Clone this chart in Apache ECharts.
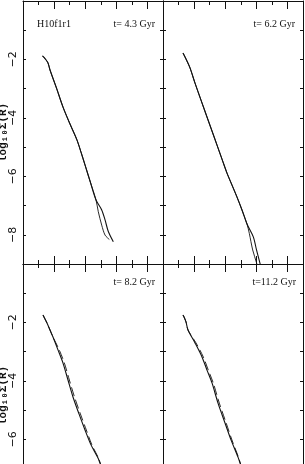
<!DOCTYPE html>
<html>
<head>
<meta charset="utf-8">
<script src="https://cdn.jsdelivr.net/npm/echarts@6/dist/echarts.min.js"></script>
<style>html,body{margin:0;padding:0;background:#fff}#c{width:305px;height:464px}</style>
</head>
<body>
<div id="c"></div>
<script>
// ---- data ----
const xMin = 0, xMax = 4.5;
const yMin = -9, yMax = 0;
const yTickLabels = [-2, -4, -6, -8];
const runLabel = 'H10f1r1';
const panelTitles = ['t= 4.3 Gyr', 't= 6.2 Gyr', 't= 8.2 Gyr', 't=11.2 Gyr'];
const yAxisTitle = 'log\u2081\u2080\u03A3(R)';

const tlA = [[0.627,-1.88],[0.707,-1.97],[0.804,-2.12],[0.868,-2.36],[1.077,-2.98],[1.286,-3.63],[1.511,-4.21],[1.736,-4.76],[1.864,-5.17],[1.993,-5.61],[2.154,-6.16],[2.347,-6.81],[2.530,-7.15],[2.637,-7.49],[2.742,-7.89],[2.903,-8.24]];
const tlB = [[0.627,-1.88],[0.707,-1.97],[0.804,-2.12],[0.868,-2.36],[1.077,-2.98],[1.286,-3.63],[1.511,-4.21],[1.736,-4.76],[1.864,-5.17],[1.993,-5.61],[2.154,-6.16],[2.347,-6.81],[2.420,-7.21],[2.530,-7.67],[2.637,-8.01],[2.774,-8.16]];

const trA = [[0.643,-1.78],[0.691,-1.88],[0.755,-2.02],[0.868,-2.29],[1.029,-2.81],[1.221,-3.39],[1.414,-3.97],[1.575,-4.45],[1.736,-4.93],[1.896,-5.41],[2.057,-5.89],[2.218,-6.30],[2.379,-6.71],[2.539,-7.15],[2.700,-7.63],[2.903,-8.07],[3.006,-8.52],[3.118,-8.98],[3.150,-9.14]];
const trB = [[0.643,-1.78],[0.691,-1.88],[0.755,-2.02],[0.868,-2.29],[1.029,-2.81],[1.221,-3.39],[1.414,-3.97],[1.575,-4.45],[1.736,-4.93],[1.896,-5.41],[2.057,-5.89],[2.218,-6.30],[2.379,-6.71],[2.539,-7.15],[2.700,-7.63],[2.774,-7.95],[2.883,-8.52],[3.012,-8.98],[3.038,-9.14]];

const blA = [[0.643,-1.745],[0.691,-1.85],[0.771,-2.02],[0.868,-2.26],[0.964,-2.50],[1.125,-2.94],[1.286,-3.39],[1.446,-3.97],[1.607,-4.55],[1.800,-5.13],[1.993,-5.68],[2.186,-6.19],[2.411,-6.64],[2.507,-6.91],[2.604,-7.19]];
const blB = [[0.643,-1.745],[0.691,-1.85],[0.771,-2.02],[0.868,-2.26],[0.964,-2.50],[1.165,-2.94],[1.330,-3.39],[1.490,-3.97],[1.655,-4.55],[1.845,-5.13],[2.035,-5.68],[2.215,-6.19],[2.425,-6.64],[2.515,-6.91],[2.610,-7.19]];

const brA = [[0.643,-1.745],[0.691,-1.85],[0.739,-1.98],[0.804,-2.26],[1.029,-2.70],[1.254,-3.18],[1.414,-3.63],[1.575,-4.07],[1.768,-4.76],[1.993,-5.44],[2.186,-6.02],[2.411,-6.61],[2.507,-6.91],[2.604,-7.19]];
const brB = [[0.643,-1.745],[0.691,-1.85],[0.739,-1.98],[0.804,-2.26],[1.060,-2.70],[1.295,-3.18],[1.455,-3.63],[1.615,-4.07],[1.810,-4.76],[2.030,-5.44],[2.215,-6.02],[2.425,-6.61],[2.515,-6.91],[2.610,-7.19]];

const panels = [
  {a: tlA, b: tlB, bDash: false},
  {a: trA, b: trB, bDash: false},
  {a: blA, b: blB, bDash: true},
  {a: brA, b: brB, bDash: true}
];

// ---- layout ----
const grids = [
  {left: 23, top: 1, width: 140, height: 263, outerBoundsMode: 'none', containLabel: false},
  {left: 163, top: 1, width: 140, height: 263, outerBoundsMode: 'none', containLabel: false},
  {left: 23, top: 264, width: 140, height: 263, outerBoundsMode: 'none', containLabel: false},
  {left: 163, top: 264, width: 140, height: 263, outerBoundsMode: 'none', containLabel: false}
];

const ink = '#111';
const lineStyle = {color: ink, width: 1};

const xAxes = [], yAxes = [], series = [];
grids.forEach((g, i) => {
  ['bottom', 'top'].forEach(pos => {
    xAxes.push({
      gridIndex: i, type: 'value', position: pos, min: xMin, max: xMax, interval: 1,
      axisLine: {show: true, onZero: false, lineStyle},
      axisTick: {show: true, inside: true, length: 8, lineStyle},
      minorTick: {show: true, splitNumber: 2, length: 4, lineStyle},
      axisLabel: {show: false}, splitLine: {show: false}
    });
  });
  const isLeft = (i % 2 === 0);
  yAxes.push({
    gridIndex: i, type: 'value', position: 'left', min: yMin, max: yMax, interval: 1,
    axisLine: {show: true, onZero: false, lineStyle},
    axisTick: {show: true, inside: true, length: 3, lineStyle},
    axisLabel: {
      show: isLeft, rotate: 90, margin: 4, color: ink, fontSize: 11,
      fontFamily: 'DejaVu Sans',
      formatter: v => yTickLabels.includes(v) ? '\u2212' + Math.abs(v) : ''
    },
    splitLine: {show: false},
    name: isLeft ? yAxisTitle : '', nameLocation: 'middle', nameRotate: 90, nameGap: 14,
    nameMoveOverlap: false,
    nameTextStyle: {color: ink, fontSize: 11, fontWeight: 'bold', fontFamily: 'Liberation Mono, DejaVu Sans Mono'}
  });
  yAxes.push({
    gridIndex: i, type: 'value', position: 'right', min: yMin, max: yMax, interval: 1,
    axisLine: {show: true, onZero: false, lineStyle},
    axisTick: {show: true, inside: true, length: 3, lineStyle},
    axisLabel: {show: false}, splitLine: {show: false}
  });
  const p = panels[i];
  series.push({
    type: 'line', xAxisIndex: 2 * i, yAxisIndex: 2 * i, data: p.a, showSymbol: false,
    smooth: 0.3, lineStyle: {color: ink, width: 1.1}, clip: true, z: 3
  });
  series.push({
    type: 'line', xAxisIndex: 2 * i, yAxisIndex: 2 * i, data: p.b, showSymbol: false,
    smooth: 0.3, lineStyle: {color: ink, width: 0.9, type: p.bDash ? [9, 4] : 'solid'}, clip: true, z: 3
  });
});

const titleFont = {fontFamily: 'Liberation Serif, DejaVu Serif', fontSize: 10, fill: ink};
const graphic = [
  {type: 'text', left: 37, top: 19, style: Object.assign({text: runLabel}, titleFont)},
  {type: 'text', right: 305 - 155, top: 19, style: Object.assign({text: panelTitles[0]}, titleFont)},
  {type: 'text', right: 305 - 295, top: 19, style: Object.assign({text: panelTitles[1]}, titleFont)},
  {type: 'text', right: 305 - 155, top: 277, style: Object.assign({text: panelTitles[2]}, titleFont)},
  {type: 'text', right: 305 - 296, top: 277, style: Object.assign({text: panelTitles[3]}, titleFont)}
];

const chart = echarts.init(document.getElementById('c'), null, {renderer: 'canvas'});
chart.setOption({
  animation: false,
  backgroundColor: '#fff',
  grid: grids,
  xAxis: xAxes,
  yAxis: yAxes,
  series,
  graphic
});
</script>
</body>
</html>
